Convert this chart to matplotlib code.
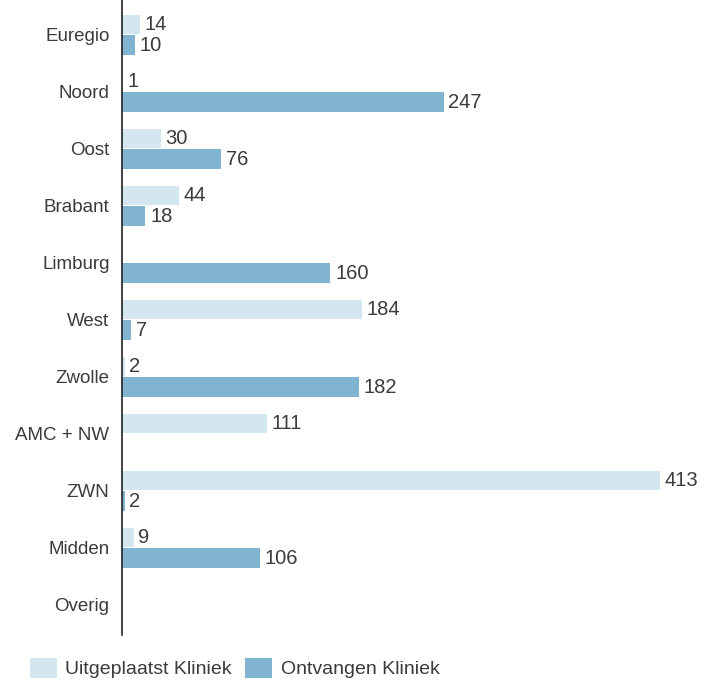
import matplotlib
matplotlib.use("Agg")
import matplotlib.pyplot as plt
from matplotlib.patches import Patch
import numpy as np

plt.rcParams['font.family'] = ['Liberation Sans', 'DejaVu Sans']

categories = ["Euregio", "Noord", "Oost", "Brabant", "Limburg", "West",
              "Zwolle", "AMC + NW", "ZWN", "Midden", "Overig"]
uitgeplaatst = [14, 1, 30, 44, None, 184, 2, 111, 413, 9, None]
ontvangen = [10, 247, 76, 18, 160, 7, 182, None, 2, 106, None]

light = "#d4e7f0"
dark = "#80b4d0"
txt = "#3b3b3b"

fig = plt.figure(figsize=(7.07, 6.81), dpi=100)
ax = fig.add_axes([122 / 707, 46 / 681, 568 / 707, 635 / 681])

y = np.arange(len(categories))
h = 0.34
off = 0.18
u = [v if v is not None else 0 for v in uitgeplaatst]
o = [v if v is not None else 0 for v in ontvangen]
ax.barh(y - off, u, height=h, color=light, edgecolor="none")
ax.barh(y + off, o, height=h, color=dark, edgecolor="none")

for yi, v in zip(y, uitgeplaatst):
    if v is not None:
        ax.text(v + 3.5, yi - off, str(v), va="center", ha="left",
                fontsize=14.5, color=txt)
for yi, v in zip(y, ontvangen):
    if v is not None:
        ax.text(v + 3.5, yi + off, str(v), va="center", ha="left",
                fontsize=14.5, color=txt)

ax.set_xlim(0, 568 / 1.303)
ax.set_ylim(10.53, -0.61)
ax.set_yticks(y)
ax.set_yticklabels(categories, fontsize=13.5, color=txt)
ax.tick_params(axis="y", length=0, pad=9)
ax.set_xticks([])
for s in ["top", "right", "bottom"]:
    ax.spines[s].set_visible(False)
ax.spines["left"].set_color("#222222")
ax.spines["left"].set_linewidth(1.2)

handles = [Patch(facecolor=light, edgecolor="none", label="Uitgeplaatst Kliniek"),
           Patch(facecolor=dark, edgecolor="none", label="Ontvangen Kliniek")]
leg = fig.legend(handles=handles, loc="lower left", bbox_to_anchor=(12 / 707, -0.022),
                 ncol=2, frameon=False, fontsize=14, handlelength=1.4,
                 handleheight=1.15, handletextpad=0.45, columnspacing=0.65)
for t in leg.get_texts():
    t.set_color(txt)

fig.savefig("out.png", dpi=100, facecolor="white")
